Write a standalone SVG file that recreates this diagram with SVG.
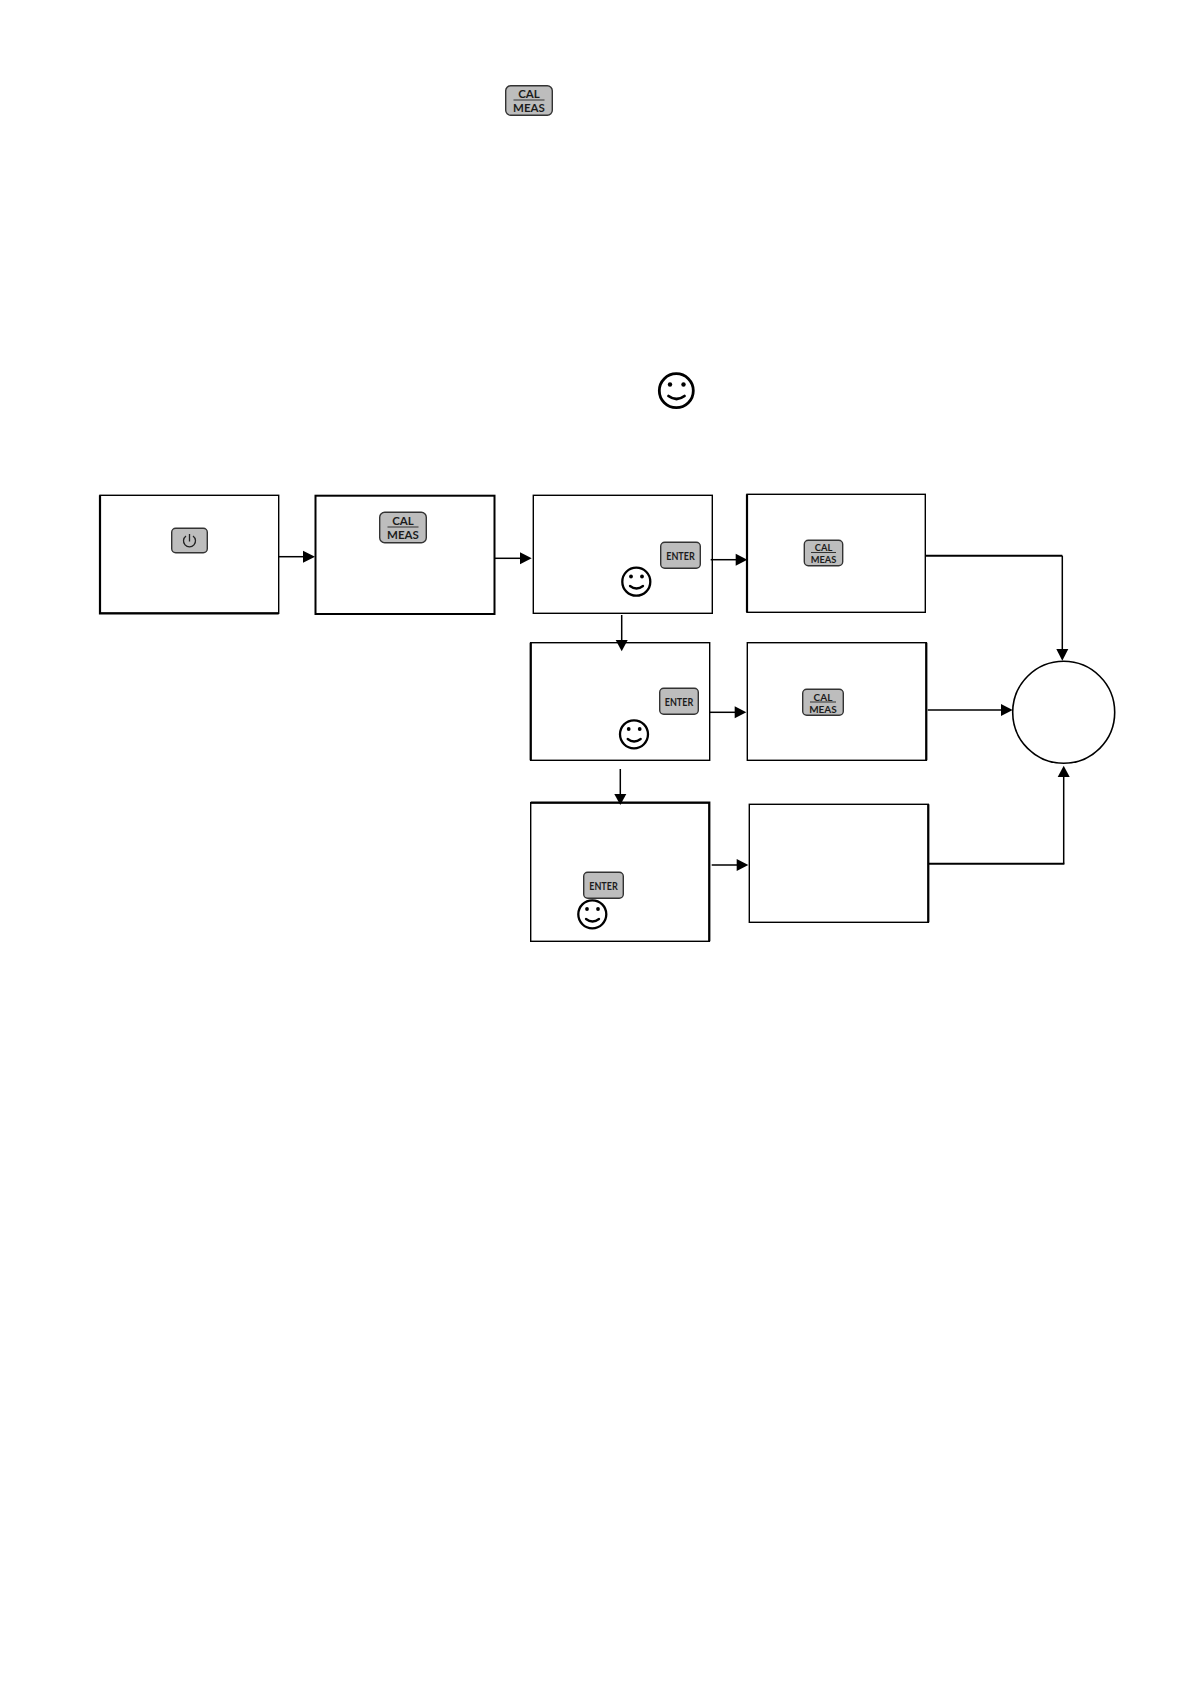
<svg xmlns="http://www.w3.org/2000/svg" width="1191" height="1684" viewBox="0 0 1191 1684">
<style>
.box{fill:#fff;stroke:#000;stroke-width:1.4}
.thick{fill:none;stroke:#000;stroke-width:2.2}
.btn{fill:#bdbdbd;stroke:#333;stroke-width:1.4}
.t{font-family:"Lato","Open Sans",sans-serif;font-weight:700;fill:#1c1c1c;text-anchor:middle}
.rule{stroke:#222;stroke-width:.9}
.face{fill:#fff;stroke:#000;stroke-width:2.3}
.mouth{fill:none;stroke:#000;stroke-width:2.3;stroke-linecap:round}
.eye{fill:#000}
.conn{fill:none;stroke:#000;stroke-width:1.5}
.conn2{fill:none;stroke:#000;stroke-width:2.1}
.head{fill:#000}
</style>
<rect width="1191" height="1684" fill="#fff"/>

<g id="legend-cal-meas">
<rect class="btn" x="505.7" y="85.7" width="46.6" height="29.6" rx="5"/>
<text class="t" x="529" y="98" font-size="11.5">CAL</text>
<line class="rule" x1="513.5" y1="100" x2="544.5" y2="100"/>
<text class="t" x="529" y="111.5" font-size="11.5">MEAS</text>
</g>
<g id="legend-smiley">
<circle class="face" cx="676.3" cy="390.7" r="17" style="stroke-width:2.8"/>
<circle class="eye" cx="670" cy="384.5" r="2.2"/>
<circle class="eye" cx="683.5" cy="384.5" r="2.2"/>
<path class="mouth" d="M668.5 396Q676.5 402 684.5 396" style="stroke-width:2.8"/>
</g>

<g id="node-power">
<rect class="box" x="100" y="495.3" width="178.7" height="118"/>
<path class="thick" d="M100 495.3V613.3H278.7"/>
<rect class="btn" x="171.7" y="528.3" width="35.6" height="24.4" rx="4"/>
<path d="M186 536A6 6 0 1 0 193 536M189.5 534V541.5" fill="none" stroke="#222" stroke-width="1.3"/>
</g>

<g id="node-cal">
<rect class="box" x="315.5" y="495.7" width="179" height="118.3" style="stroke-width:2"/>
<rect class="btn" x="379.7" y="512.3" width="46.6" height="30.4" rx="5"/>
<text class="t" x="403" y="525" font-size="11.5">CAL</text>
<line class="rule" x1="387.5" y1="527" x2="418.5" y2="527"/>
<text class="t" x="403" y="538.5" font-size="11.5">MEAS</text>
</g>

<g id="node-enter-1">
<rect class="box" x="533.3" y="495.3" width="179" height="118"/>
<rect class="btn" x="660.7" y="542.3" width="39.6" height="26" rx="4"/>
<text class="t" x="680.5" y="559.5" font-size="10.5" textLength="28.5" lengthAdjust="spacingAndGlyphs">ENTER</text>
<circle class="face" cx="636.3" cy="581.7" r="14"/>
<circle class="eye" cx="631" cy="576.5" r="1.9"/>
<circle class="eye" cx="642" cy="576.5" r="1.9"/>
<path class="mouth" d="M630 586Q636.5 591 643 586"/>
</g>

<g id="node-cal-1">
<rect class="box" x="747" y="494.3" width="178.3" height="118"/>
<path class="thick" d="M747 494.3V612.3"/>
<rect class="btn" x="804.3" y="540.3" width="38.4" height="25.4" rx="4"/>
<text class="t" x="823.5" y="551" font-size="9.3">CAL</text>
<line class="rule" x1="811" y1="552.5" x2="836" y2="552.5"/>
<text class="t" x="823.5" y="562.5" font-size="9.3">MEAS</text>
</g>

<g id="node-enter-2">
<rect class="box" x="530.7" y="642.7" width="179" height="117.6"/>
<path class="thick" d="M530.7 642.7V760.3"/>
<rect class="btn" x="659.7" y="688.3" width="38.6" height="26" rx="4"/>
<text class="t" x="679" y="705.5" font-size="10.5" textLength="28.5" lengthAdjust="spacingAndGlyphs">ENTER</text>
<circle class="face" cx="634" cy="734.3" r="14"/>
<circle class="eye" cx="628.7" cy="729" r="1.9"/>
<circle class="eye" cx="639.7" cy="729" r="1.9"/>
<path class="mouth" d="M627.7 739Q634 744 640.7 739"/>
</g>

<g id="node-cal-2">
<rect class="box" x="747.3" y="642.7" width="179" height="117.6"/>
<path class="thick" d="M926.3 642.7V760.3"/>
<rect class="btn" x="802.7" y="689.3" width="40.6" height="26" rx="4"/>
<text class="t" x="823" y="700.5" font-size="10">CAL</text>
<line class="rule" x1="810" y1="702" x2="836" y2="702"/>
<text class="t" x="823" y="712.5" font-size="10">MEAS</text>
</g>

<g id="node-enter-3">
<rect class="box" x="530.7" y="802.7" width="178.6" height="138.6"/>
<path class="thick" d="M530.7 802.7H709.3V941.3"/>
<rect class="btn" x="583.7" y="872.3" width="39.6" height="26" rx="4"/>
<text class="t" x="603.5" y="889.5" font-size="10.5" textLength="28.5" lengthAdjust="spacingAndGlyphs">ENTER</text>
<circle class="face" cx="592.3" cy="914.3" r="14"/>
<circle class="eye" cx="587" cy="909" r="1.9"/>
<circle class="eye" cx="598" cy="909" r="1.9"/>
<path class="mouth" d="M586 919Q592.5 924 599 919"/>
</g>

<g id="node-end-3">
<rect class="box" x="749.3" y="804.3" width="179" height="118"/>
<path class="thick" d="M928.3 804.3V922.3"/>
</g>

<g id="node-circle">
<circle cx="1063.7" cy="712.3" r="51" fill="#fff" stroke="#000" stroke-width="1.6"/>
</g>

<g id="connectors">
<path class="conn" d="M278.7 556.7H304"/><path class="head" d="M315 556.7L303 550.7V562.7Z"/>
<path class="conn" d="M494.5 558.3H521"/><path class="head" d="M531.7 558.3L520 552.3V564.3Z"/>
<path class="conn" d="M710.7 559.7H737"/><path class="head" d="M747.3 559.7L735.7 553.7V565.7Z"/>
<path class="conn" d="M709.7 712.3H736"/><path class="head" d="M746.3 712.3L734.7 706.3V718.3Z"/>
<path class="conn" d="M621.7 615V641"/><path class="head" d="M621.7 651.3L615.7 640H627.7Z"/>
<path class="conn" d="M620.3 769V795"/><path class="head" d="M620.3 805L614.3 794H626.3Z"/>
<path class="conn" d="M711.7 865H738"/><path class="head" d="M748.3 865L736.7 859V871Z"/>
<path class="conn2" d="M925.3 555.7H1062.3"/><path class="conn" d="M1062.3 555.7V650"/><path class="head" d="M1062.3 660.7L1056.3 649H1068.3Z"/>
<path class="conn" d="M927.7 710H1002"/><path class="head" d="M1012.7 710L1001 704V716Z"/>
<path class="conn2" d="M928.3 863.7H1064.4"/><path class="conn" d="M1063.7 863.7V776"/><path class="head" d="M1063.7 765.7L1057.7 777H1069.7Z"/>
</g>
</svg>
